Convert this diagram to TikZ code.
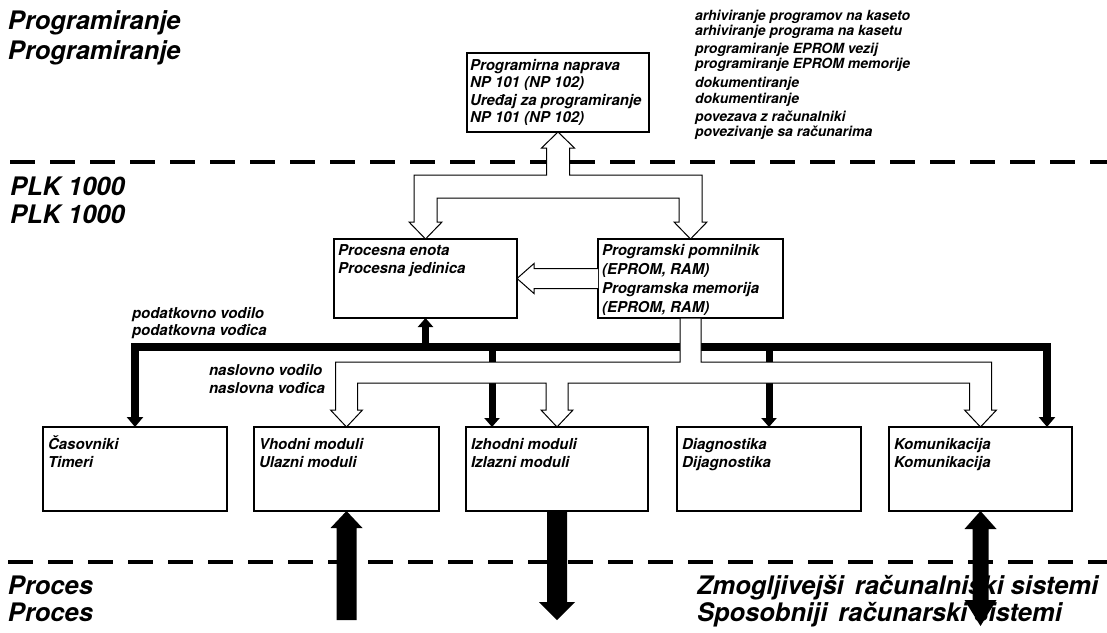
\documentclass[tikz,border=0pt]{standalone}
\usepackage{fontspec}
\setmainfont{TeX Gyre Heros}
\usetikzlibrary{arrows.meta,calc}
\begin{document}
\begin{tikzpicture}[x=1pt,y=-1pt,
  big/.style={font=\fontsize{25.5}{29}\selectfont\bfseries\itshape, anchor=base west, inner sep=0pt, outer sep=0pt},
  lbl/.style={font=\fontsize{15}{17}\selectfont\bfseries\itshape, anchor=base west, inner sep=0pt, outer sep=0pt},
  note/.style={font=\fontsize{14}{16}\selectfont\bfseries\itshape, anchor=base west, inner sep=0pt, outer sep=0pt},
  unit/.style={draw, line width=1.3pt, anchor=north west, inner sep=0pt, outer sep=0pt},
  divider/.style={line width=4pt, dash pattern=on 25pt off 15pt},
  hollow/.style={draw, fill=white, line width=1pt, line join=miter},
  databus/.style={line width=8.5pt, line join=miter,
    {Triangle[width=16pt,length=10pt]}-{Triangle[width=16pt,length=10pt]}},
  drop/.style={line width=7pt, -{Triangle[width=15pt,length=9pt]}}
]
\useasboundingbox (0,0) rectangle (1107,632);

% ---- function blocks ----
\node[unit, minimum width=182pt, minimum height=79pt] (prog) at (467,53) {};
\node[unit, minimum width=183pt, minimum height=79pt] (proc) at (334,239) {};
\node[unit, minimum width=185pt, minimum height=79pt] (pmem) at (598,239) {};
\node[unit, minimum width=184pt, minimum height=84pt] (cas)  at (43,427) {};
\node[unit, minimum width=185pt, minimum height=84pt] (vh)   at (254,427) {};
\node[unit, minimum width=182pt, minimum height=84pt] (izh)  at (466,427) {};
\node[unit, minimum width=184pt, minimum height=84pt] (diag) at (677,427) {};
\node[unit, minimum width=183pt, minimum height=84pt] (kom)  at (889,427) {};

% ---- level separators ----
\coordinate (sepTa) at (10,162);  \coordinate (sepTb) at (1107,162);
\coordinate (sepBa) at (8,562);   \coordinate (sepBb) at (1107,562);
\draw[divider] (sepTa) -- (sepTb);
\draw[divider] (sepBa) -- (sepBb);

% ---- data bus (solid) ----
\coordinate (busL) at (135,347);
\coordinate (busR) at (1047,347);
\coordinate (izhd) at ($(izh.north west)+(26,0)$);
\draw[databus] (cas.north) -- (busL) -- (busR) -- (busR |- kom.north);
\draw[drop] (proc.south |- busL) -- (proc.south);
\draw[drop] (izhd |- busL) -- (izhd);
\draw[drop] (diag.north |- busL) -- (diag.north);

% ---- programming link (hollow) ----
\filldraw[hollow] (prog.south) -- (574.5,148) -- (569.5,148) -- (569.5,175)
  -- (702,175) -- (702,222) -- (707,222) -- (pmem.north) -- (674,222)
  -- (679,222) -- (679,198) -- (437,198) -- (437,222) -- (442,222)
  -- (proc.north) -- (409,222) -- (414,222) -- (414,175) -- (546.5,175)
  -- (546.5,148) -- (541.5,148) -- cycle;

% ---- program memory to processing unit ----
\filldraw[hollow] (598,268.5) -- (534,268.5) -- (534,263.5) -- (proc.east)
  -- (534,293.5) -- (534,288.5) -- (598,288.5);

% ---- address bus (hollow) ----
\filldraw[hollow] (680,318) -- (680,362) -- (335.5,362) -- (335.5,410)
  -- (330.5,410) -- (vh.north) -- (362.5,410) -- (357.5,410) -- (357.5,383)
  -- (546,383) -- (546,410) -- (541,410) -- (izh.north) -- (573,410)
  -- (568,410) -- (568,383) -- (969.5,383) -- (969.5,410) -- (964.5,410)
  -- (kom.north) -- (996.5,410) -- (991.5,410) -- (991.5,362) -- (701,362)
  -- (701,318) -- cycle;

% ---- level titles ----
\node[big] (tp1) at (8,29)  {Programiranje};
\node[big] (tp2) at (8,59)  {Programiranje};
\node[big] (tk1) at (10,195) {PLK 1000};
\node[big] (tk2) at (10,223) {PLK 1000};
\node[big] (tr1) at (8,594) {Proces};
\node[big] (tr2) at (8,621) {Proces};
\node[big] (ts1) at (697,594) {Zmogljivejši\hspace{4pt} računalniški sistemi};
\node[big] (ts2) at (697,621) {Sposobniji\hspace{4pt} računarski sistemi};

% ---- programming functions ----
\node[note] (f1) at (695,20)  {arhiviranje programov na kaseto};
\node[note] (f2) at (695,35)  {arhiviranje programa na kasetu};
\node[note] (f3) at (695,53)  {programiranje EPROM vezij};
\node[note] (f4) at (695,68)  {programiranje EPROM memorije};
\node[note] (f5) at (695,87)  {dokumentiranje};
\node[note] (f6) at (695,103) {dokumentiranje};
\node[note] (f7) at (695,121) {povezava z računalniki};
\node[note] (f8) at (695,136) {povezivanje sa računarima};

% ---- block captions ----
\node[lbl] (c1) at (470,70)  {Programirna naprava};
\node[lbl] (c2) at (470,87)  {NP 101 (NP 102)};
\node[lbl] (c3) at (470,105) {Uređaj za programiranje};
\node[lbl] (c4) at (470,122) {NP 101 (NP 102)};
\node[lbl] (c5) at (338,255) {Procesna enota};
\node[lbl] (c6) at (338,273) {Procesna jedinica};
\node[lbl] (c7) at (602,255) {Programski pomnilnik};
\node[lbl] (c8) at (602,274) {(EPROM, RAM)};
\node[lbl] (c9) at (602,293) {Programska memorija};
\node[lbl] (c10) at (602,312) {(EPROM, RAM)};
\node[lbl] (c11) at (48,449)  {Časovniki};
\node[lbl] (c12) at (48,467)  {Timeri};
\node[lbl] (c13) at (259,449) {Vhodni moduli};
\node[lbl] (c14) at (259,467) {Ulazni moduli};
\node[lbl] (c15) at (471,449) {Izhodni moduli};
\node[lbl] (c16) at (471,467) {Izlazni moduli};
\node[lbl] (c17) at (682,449) {Diagnostika};
\node[lbl] (c18) at (682,467) {Dijagnostika};
\node[lbl] (c19) at (894,449) {Komunikacija};
\node[lbl] (c20) at (894,467) {Komunikacija};

% ---- bus labels ----
\node[lbl] (b1) at (132,318) {podatkovno vodilo};
\node[lbl] (b2) at (132,335) {podatkovna vođica};
\node[lbl] (b3) at (209,375) {naslovno vodilo};
\node[lbl] (b4) at (209,393) {naslovna vođica};

% ---- process and system links ----
\fill (vh.south) -- ++(16,17) -- ++(-6,0) -- ++(0,92) -- ++(-20,0)
  -- ++(0,-92) -- ++(-6,0) -- cycle;
\fill ($(izh.south)+(-10,0)$) -- ++(20,0) -- ++(0,91) -- ++(8,0)
  -- ++(-18,18) -- ++(-18,-18) -- ++(8,0) -- cycle;
\fill (kom.south) -- ++(16,18) -- ++(-8,0) -- ++(0,71) -- ++(8,0)
  -- ++(-16,26) -- ++(-16,-26) -- ++(8,0) -- ++(0,-71) -- ++(-8,0) -- cycle;
\end{tikzpicture}
\end{document}
